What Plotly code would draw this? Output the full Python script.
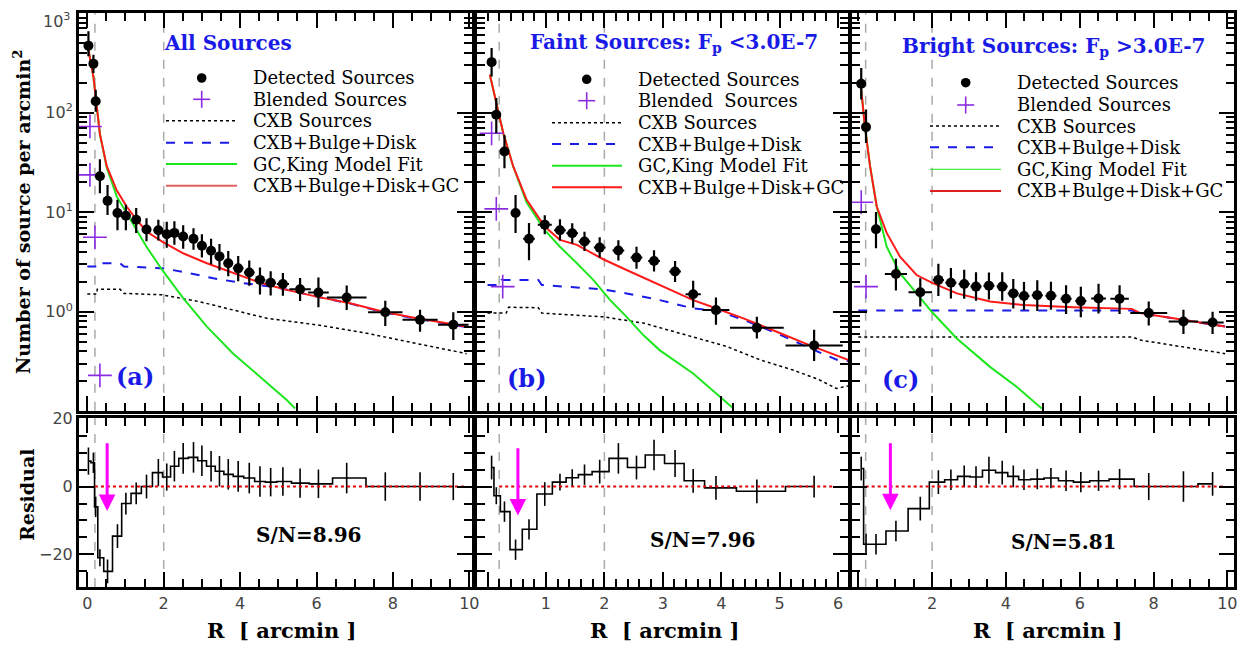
import plotly.graph_objects as go

W, H = 1249, 649

# ------------------------------------------------------------------ data
# Panel (a): all sources
a_det_x = [0.03, 0.16, 0.22, 0.33, 0.53, 0.79, 1.01, 1.28, 1.55, 1.86, 2.08, 2.28, 2.51, 2.78, 3.00,
           3.24, 3.46, 3.69, 3.95, 4.24, 4.52, 4.80, 5.12, 5.57, 6.05, 6.79, 7.80, 8.71, 9.58]
a_det_y = [470, 310, 130, 23, 13, 9.8, 9.2, 8.4, 6.7, 6.6, 6.0, 6.2, 5.7, 5.4, 4.6,
           4.1, 3.6, 3.07, 2.73, 2.48, 2.09, 1.96, 1.9, 1.68, 1.56, 1.39, 0.99, 0.83, 0.74]
a_det_eup = [185, 70, 40, 11, 5.8, 3.5, 2.7, 2.6, 2.0, 1.8, 2.0, 1.9, 1.7, 1.5, 1.4,
             1.3, 1.2, 1.0, 0.9, 0.8, 0.7, 0.6, 0.55, 0.5, 0.65, 0.45, 0.3, 0.22, 0.25]
a_det_edn = [103, 60, 28, 7.5, 3.6, 3.2, 2.6, 2.2, 1.6, 1.4, 1.6, 1.5, 1.4, 1.2, 1.1,
             1.1, 1.0, 0.8, 0.7, 0.65, 0.6, 0.5, 0.45, 0.4, 0.45, 0.35, 0.27, 0.2, 0.22]
a_det_ex = [0.03, 0.04, 0.04, 0.08, 0.1, 0.12, 0.12, 0.12, 0.12, 0.12, 0.1, 0.1, 0.12, 0.12, 0.12,
            0.12, 0.12, 0.12, 0.14, 0.14, 0.14, 0.14, 0.16, 0.28, 0.27, 0.52, 0.45, 0.46, 0.4]
a_bl_x = [0.07, 0.07, 0.20, 0.33]
a_bl_y = [72.6, 23.7, 5.6, 0.23]
a_red_x = [0.03, 0.16, 0.33, 0.51, 0.77, 1.03, 1.29, 1.55, 1.96, 2.51, 3.13, 3.82, 4.52, 5.22, 6.0, 6.88, 7.75, 8.62, 9.93]
a_red_y = [427, 230, 61, 29, 16.6, 11.4, 8.4, 6.4, 5.07, 3.87, 3.07, 2.44, 1.96, 1.66, 1.42, 1.22, 1.0, 0.86, 0.71]
a_grn_x = [0.03, 0.16, 0.33, 0.51, 0.77, 1.03, 1.29, 1.55, 1.96, 2.51, 3.13, 3.82, 4.52, 5.22, 5.44]
a_grn_y = [427, 230, 61, 28, 14.4, 9.8, 6.6, 4.5, 2.63, 1.37, 0.71, 0.38, 0.223, 0.13, 0.107]
a_blu_x = [0.0, 0.25, 0.26, 0.86, 0.96, 1.96, 2.6, 3.3, 4.0, 4.96, 6.0, 6.88, 7.75, 8.62, 9.93]
a_blu_y = [2.85, 2.85, 3.07, 3.07, 2.85, 2.74, 2.48, 2.17, 1.96, 1.76, 1.42, 1.21, 0.99, 0.85, 0.70]
a_cxb_x = [0.0, 0.25, 0.26, 0.86, 0.96, 1.96, 2.95, 3.82, 4.7, 6.0, 7.31, 8.62, 9.93]
a_cxb_y = [1.51, 1.51, 1.68, 1.68, 1.53, 1.48, 1.26, 1.04, 0.86, 0.74, 0.61, 0.48, 0.38]
a_res_y = [7.5, 7.0, -6, -21, -25, -14.6, -5, -2, 0, 4.1, 2.8, 6, 8.3, 8.6, 7.6,
           6, 4.5, 3.6, 3.0, 2.5, 1.5, 1.3, 1.5, 1.0, 0.8, 2.5, 0, 0, 0]
a_res_e = [4, 3, 3, 2.5, 3.5, 3.5, 3.2, 3.2, 3.5, 4, 4, 4.5, 4.5, 4.5, 4.5,
           4.5, 4.5, 4.5, 4.5, 4.5, 4.5, 4.2, 4.2, 4.3, 4.2, 4.5, 4.2, 4.2, 4]

# Panel (b): faint sources
b_det_x = [0.07, 0.15, 0.29, 0.48, 0.71, 0.98, 1.24, 1.45, 1.66, 1.92, 2.24, 2.55, 2.85, 3.21, 3.52, 3.91, 4.61, 5.59]
b_det_y = [321, 95, 40.7, 9.8, 5.4, 7.5, 6.6, 6.15, 5.07, 4.41, 4.12, 3.5, 3.24, 2.54, 1.5, 1.04, 0.69, 0.46]
b_det_eup = [124, 45, 19, 5.1, 2.4, 1.8, 1.9, 1.6, 1.3, 1.2, 1.1, 1.0, 0.9, 0.7, 0.55, 0.35, 0.2, 0.2]
b_det_edn = [90, 33, 13, 3.6, 2.1, 1.5, 1.4, 1.3, 1.0, 0.9, 0.85, 0.8, 0.7, 0.55, 0.4, 0.3, 0.15, 0.14]
b_det_ex = [0.03, 0.04, 0.05, 0.08, 0.1, 0.12, 0.1, 0.1, 0.1, 0.1, 0.1, 0.1, 0.1, 0.1, 0.13, 0.23, 0.46, 0.49]
b_bl_x = [0.07, 0.15, 0.26]
b_bl_y = [62, 10.8, 1.79]
b_red_x = [0.04, 0.17, 0.27, 0.44, 0.67, 0.98, 1.24, 1.53, 1.98, 2.38, 2.95, 3.52, 3.92, 4.38, 4.95, 5.52, 6.17]
b_red_y = [240, 107, 62, 28.8, 13.3, 7.18, 5.27, 4.7, 3.37, 2.63, 1.86, 1.31, 1.08, 0.86, 0.63, 0.46, 0.33]
b_grn_x = [0.04, 0.17, 0.27, 0.44, 0.67, 0.98, 1.24, 1.53, 1.81, 2.1, 2.38, 2.67, 2.95, 3.52, 4.21]
b_grn_y = [240, 107, 62, 28.8, 12.5, 6.6, 4.5, 3.07, 2.09, 1.31, 0.89, 0.58, 0.41, 0.24, 0.107]
b_blu_x = [0.0, 0.22, 0.24, 0.87, 0.93, 1.98, 2.38, 2.95, 3.52, 3.92, 4.38, 4.95, 5.52, 5.98, 6.17]
b_blu_y = [1.86, 1.86, 2.09, 2.09, 1.86, 1.68, 1.53, 1.31, 1.08, 1.03, 0.83, 0.61, 0.43, 0.33, 0.32]
b_cxb_x = [0.0, 0.32, 0.36, 0.87, 0.93, 1.98, 2.67, 3.52, 4.09, 4.66, 5.23, 5.66, 5.97, 6.17]
b_cxb_y = [0.97, 0.97, 1.11, 1.10, 0.97, 0.89, 0.77, 0.56, 0.45, 0.33, 0.26, 0.21, 0.17, 0.18]
b_res_y = [5.6, -2.7, -7.4, -18.6, -12.6, -2.2, 1.3, 2.6, 3.5, 4.4, 8.3, 5.6, 9.3, 6.8, 1.7, -0.4, -1.4, 0]
b_res_e = [3.5, 2.5, 3, 3, 3, 3.5, 2.5, 2.5, 3, 3.5, 4.5, 3.5, 4.5, 4, 3.5, 3.5, 3.5, 3.2]

# Panel (c): bright sources
c_det_x = [0.08, 0.21, 0.48, 1.02, 1.68, 2.17, 2.51, 2.87, 3.19, 3.54, 3.90, 4.20, 4.49, 4.85, 5.22,
           5.63, 6.03, 6.51, 7.08, 7.87, 8.81, 9.60]
c_det_y = [195, 71.5, 6.75, 2.4, 1.57, 2.09, 1.96, 1.9, 1.79, 1.83, 1.79, 1.53, 1.44, 1.47, 1.45,
           1.35, 1.28, 1.36, 1.35, 0.97, 0.8, 0.78]
c_det_eup = [85, 36, 3.3, 1.0, 0.6, 0.95, 0.8, 0.75, 0.7, 0.65, 0.7, 0.6, 0.55, 0.6, 0.55,
             0.5, 0.5, 0.55, 0.5, 0.3, 0.25, 0.22]
c_det_edn = [60, 22, 2.4, 0.76, 0.44, 0.65, 0.6, 0.55, 0.5, 0.5, 0.5, 0.45, 0.4, 0.45, 0.4,
             0.4, 0.4, 0.4, 0.4, 0.24, 0.2, 0.18]
c_det_ex = [0.03, 0.04, 0.1, 0.3, 0.32, 0.15, 0.15, 0.15, 0.15, 0.15, 0.15, 0.15, 0.15, 0.15, 0.15,
            0.15, 0.15, 0.2, 0.25, 0.5, 0.4, 0.3]
c_bl_x = [0.08, 0.21]
c_bl_y = [12.6, 1.79]
c_red_x = [0.08, 0.18, 0.32, 0.5, 0.77, 1.13, 1.58, 1.99, 2.67, 3.57, 4.47, 5.83, 7.41, 7.64, 8.54, 9.94]
c_red_y = [170, 72, 28.8, 11.4, 6.2, 3.58, 2.34, 1.96, 1.53, 1.27, 1.17, 1.11, 1.07, 0.97, 0.86, 0.71]
c_grn_x = [0.08, 0.18, 0.32, 0.5, 0.77, 1.13, 1.58, 1.99, 2.67, 3.57, 4.29, 4.97]
c_grn_y = [170, 72, 28.8, 11.4, 4.5, 2.44, 1.53, 1.0, 0.54, 0.28, 0.177, 0.107]
c_blu_x = [0.0, 7.41, 7.64, 8.54, 9.94]
c_blu_y = [1.03, 1.03, 0.97, 0.86, 0.71]
c_cxb_x = [0.0, 7.41, 7.64, 8.54, 9.45, 9.94]
c_cxb_y = [0.56, 0.56, 0.52, 0.46, 0.41, 0.38]
c_res_y = [5.3, -17, -17, -13.1, -6.5, 1.3, 2, 3, 2.8, 4.8, 4.1, 3, 2, 2.2, 2.5, 1.7, 1.3, 1.7, 2.2, 0, 0, 0.8]
c_res_e = [3.5, 3.2, 3, 3, 3.5, 3.5, 3, 3.2, 3.2, 4, 3.5, 3.2, 3, 3, 3, 3, 3, 3, 3, 4, 4.5, 3.5]

# Zero reference lines of the residual panels (x extent)
zero_x = {"a": [0.2, 9.9], "b": [0.2, 5.9], "c": [0.2, 9.95]}
# Vertical dashed markers (core radius / 2 arcmin)
vlines = [0.2, 2.0]
# Magenta arrows in residual panels: x, tail y, head y
arrow_x = [0.52, 0.52, 0.87]
arrow_tail = [13.2, 11.7, 13.2]
arrow_head = [-7.2, -8.5, -7.0]

titles = ["All Sources", "Faint Sources: F<sub>p</sub> &lt;3.0E-7", "Bright Sources: F<sub>p</sub> &gt;3.0E-7"]
tags = ["(a)", "(b)", "(c)"]
snr = ["S/N=8.96", "S/N=7.96", "S/N=5.81"]
legend_names = ["Detected Sources", "Blended Sources", "CXB Sources", "CXB+Bulge+Disk",
                "GC,King Model Fit", "CXB+Bulge+Disk+GC"]
legend_names_b = ["Detected Sources", "Blended\u00a0 Sources", "CXB Sources", "CXB+Bulge+Disk",
                  "GC,King Model Fit", "CXB+Bulge+Disk+GC"]
ytick_vals = [1, 10, 100, 1000]
ytick_text = ["10<sup>0</sup>", "10<sup>1</sup>", "10<sup>2</sup>", ""]
ytop_label = "10<sup>3</sup>"

# ------------------------------------------------------------------ layout geometry (pixels)
OFF = 8  # page margin of the html body


def PX(x):
    return (x - OFF) / W


def PY(y):
    return 1 - (y - OFF) / H


x_dom_px = [(79, 472), (477, 848), (852, 1234)]
x_ranges = [[-0.217, 10.07], [-0.18, 6.17], [-0.17, 10.18]]
top_dom = [PY(410.7), PY(13)]
bot_dom = [PY(587), PY(418)]

RED = "#ff1a1a"
GREEN = "#1ee61e"
BLUE = "#1a1ae6"
PURPLE = "#8a2be2"
TITLE_BLUE = "#1a1ae6"

fig = go.Figure()

panels = [
    dict(det=(a_det_x, a_det_y, a_det_eup, a_det_edn, a_det_ex), bl=(a_bl_x, a_bl_y),
         red=(a_red_x, a_red_y), grn=(a_grn_x, a_grn_y), blu=(a_blu_x, a_blu_y), cxb=(a_cxb_x, a_cxb_y),
         res=(a_res_y, a_res_e), zx=zero_x["a"]),
    dict(det=(b_det_x, b_det_y, b_det_eup, b_det_edn, b_det_ex), bl=(b_bl_x, b_bl_y),
         red=(b_red_x, b_red_y), grn=(b_grn_x, b_grn_y), blu=(b_blu_x, b_blu_y), cxb=(b_cxb_x, b_cxb_y),
         res=(b_res_y, b_res_e), zx=zero_x["b"]),
    dict(det=(c_det_x, c_det_y, c_det_eup, c_det_edn, c_det_ex), bl=(c_bl_x, c_bl_y),
         red=(c_red_x, c_red_y), grn=(c_grn_x, c_grn_y), blu=(c_blu_x, c_blu_y), cxb=(c_cxb_x, c_cxb_y),
         res=(c_res_y, c_res_e), zx=zero_x["c"]),
]

for i, p in enumerate(panels):
    xt = "x" if i == 0 else f"x{i+1}"
    yt = "y" if i == 0 else f"y{i+1}"
    xb = f"x{i+4}"
    yb = f"y{i+4}"
    fig.add_trace(go.Scatter(x=p["cxb"][0], y=p["cxb"][1], mode="lines", xaxis=xt, yaxis=yt,
                             line=dict(color="black", width=1.5, dash="dot"), showlegend=False,
                             name=legend_names[2]))
    fig.add_trace(go.Scatter(x=p["blu"][0], y=p["blu"][1], mode="lines", xaxis=xt, yaxis=yt,
                             line=dict(color=BLUE, width=2, dash="dash"), showlegend=False,
                             name=legend_names[3]))
    fig.add_trace(go.Scatter(x=p["grn"][0], y=p["grn"][1], mode="lines", xaxis=xt, yaxis=yt,
                             line=dict(color=GREEN, width=2), showlegend=False, name=legend_names[4]))
    fig.add_trace(go.Scatter(x=p["red"][0], y=p["red"][1], mode="lines", xaxis=xt, yaxis=yt,
                             line=dict(color=RED, width=2), showlegend=False, name=legend_names[5]))
    fig.add_trace(go.Scatter(x=p["bl"][0], y=p["bl"][1], mode="markers", xaxis=xt, yaxis=yt,
                             marker=dict(symbol="cross-thin-open", size=17, color=PURPLE,
                                         line=dict(color=PURPLE, width=1.6)),
                             showlegend=False, name=legend_names[1]))
    dx, dy, eu, ed, ex = p["det"]
    fig.add_trace(go.Scatter(x=dx, y=dy, mode="markers", xaxis=xt, yaxis=yt,
                             marker=dict(color="black", size=10),
                             error_y=dict(type="data", array=eu, arrayminus=ed, symmetric=False,
                                          color="black", thickness=2.2, width=0),
                             error_x=dict(type="data", array=ex, color="black", thickness=2, width=0),
                             showlegend=False, name=legend_names[0]))
    ry, re = p["res"]
    fig.add_trace(go.Scatter(x=dx, y=ry, mode="lines", xaxis=xb, yaxis=yb,
                             line=dict(color="black", width=1.6, shape="hvh"),
                             error_y=dict(type="data", array=re, color="black", thickness=1.6, width=0),
                             showlegend=False, name="Residual"))
    fig.add_trace(go.Scatter(x=p["zx"], y=[0, 0], mode="lines", xaxis=xb, yaxis=yb,
                             line=dict(color="#e00000", width=2, dash="dot"), showlegend=False,
                             name="zero"))

# ------------------------------------------------------------------ axes
tickfont = dict(family="DejaVu Sans", size=16, color="#444444")
base = dict(showline=True, linewidth=3, linecolor="black", mirror="ticks", ticks="inside",
            ticklen=15, tickwidth=2, tickcolor="black", showgrid=False, zeroline=False,
            tickfont=tickfont, automargin=False, ticklabeloverflow="allow")

log_minor = []
for d in [0.1, 1, 10, 100]:
    for k in range(2, 10):
        log_minor.append(k * d)

xtickvals = [[0, 2, 4, 6, 8, 10], [0, 1, 2, 3, 4, 5, 6], [0, 2, 4, 6, 8, 10]]
xticktext = [["0", "2", "4", "6", "8", "10"], ["", "1", "2", "3", "4", "5", "6"],
             ["", "2", "4", "6", "8", "10"]]
xminor = [0.5, 0.2, 0.5]

layout_axes = {}
for i in range(3):
    dom = [PX(x_dom_px[i][0]), PX(x_dom_px[i][1])]
    minor = dict(ticks="inside", ticklen=8, tickwidth=1.5, tickcolor="black", showgrid=False,
                 tickmode="linear", tick0=0, dtick=xminor[i])
    kt = "xaxis" if i == 0 else f"xaxis{i+1}"
    layout_axes[kt] = dict(base, domain=dom, range=x_ranges[i], anchor="y" if i == 0 else f"y{i+1}",
                           tickmode="array", tickvals=xtickvals[i], ticktext=xticktext[i],
                           showticklabels=False, minor=minor)
    layout_axes[f"xaxis{i+4}"] = dict(base, domain=dom, range=x_ranges[i], anchor=f"y{i+4}",
                                      tickmode="array", tickvals=xtickvals[i], ticktext=xticktext[i],
                                      showticklabels=True, minor=minor)
    ky = "yaxis" if i == 0 else f"yaxis{i+1}"
    layout_axes[ky] = dict(base, domain=top_dom, type="log", range=[-0.993, 3.0],
                           anchor="x" if i == 0 else f"x{i+1}",
                           tickmode="array", tickvals=ytick_vals, ticktext=ytick_text,
                           showticklabels=(i == 0),
                           minor=dict(ticks="inside", ticklen=8, tickwidth=1.5, tickcolor="black",
                                      showgrid=False, tickmode="array", tickvals=log_minor))
    layout_axes[f"yaxis{i+4}"] = dict(base, domain=bot_dom, range=[-29.6, 20.2], anchor=f"x{i+4}",
                                      tickmode="array", tickvals=[-20, 0, 20],
                                      ticktext=["\u221220", "0", "20"], showticklabels=(i == 0),
                                      minor=dict(ticks="inside", ticklen=8, tickwidth=1.5,
                                                 tickcolor="black", showgrid=False,
                                                 tickmode="linear", tick0=0, dtick=5))

# ------------------------------------------------------------------ shapes & annotations
shapes = []
ann = []
for i in range(3):
    xt = "x" if i == 0 else f"x{i+1}"
    xb = f"x{i+4}"
    yt = "y" if i == 0 else f"y{i+1}"
    yb = f"y{i+4}"
    for xr, yr in [(xt, yt), (xb, yb)]:
        for v in vlines:
            shapes.append(dict(type="line", xref=xr, yref=f"{yr} domain", x0=v, x1=v, y0=0, y1=1,
                               line=dict(color="#aaaaaa", width=1.5, dash="dash"), layer="below"))
    ann.append(dict(x=arrow_x[i], y=arrow_head[i], ax=arrow_x[i], ay=arrow_tail[i], xref=xb, yref=yb,
                    axref=xb, ayref=yb, showarrow=True, arrowhead=2, arrowsize=1.1, arrowwidth=3,
                    arrowcolor="#ff00ff", text=""))

# top decade label of the log axis, kept inside the page
ann.append(dict(x=PX(72), y=PY(8), xref="paper", yref="paper", text=ytop_label, showarrow=False,
                xanchor="right", yanchor="top", font=tickfont))

serif_b = "DejaVu Serif"
title_pos = [(228, 43), (674, 43), (1054, 47)]
tag_pos = [(135, 376), (527, 378), (900, 379)]
snr_pos = [(309, 535), (703, 540), (1064, 542)]
for i in range(3):
    ann.append(dict(x=PX(title_pos[i][0]), y=PY(title_pos[i][1]), xref="paper", yref="paper",
                    text=f"<b>{titles[i]}</b>", showarrow=False, xanchor="center", yanchor="middle",
                    font=dict(family=serif_b, size=20, color=TITLE_BLUE)))
    ann.append(dict(x=PX(tag_pos[i][0]), y=PY(tag_pos[i][1]), xref="paper", yref="paper",
                    text=f"<b>{tags[i]}</b>", showarrow=False, xanchor="center", yanchor="middle",
                    font=dict(family=serif_b, size=24, color=TITLE_BLUE)))
    ann.append(dict(x=PX(snr_pos[i][0]), y=PY(snr_pos[i][1]), xref="paper", yref="paper",
                    text=f"<b>{snr[i]}</b>", showarrow=False, xanchor="center", yanchor="middle",
                    font=dict(family=serif_b, size=20, color="black")))

ann.append(dict(x=PX(22), y=PY(212), xref="paper", yref="paper", textangle=-90,
                xanchor="center", yanchor="middle",
                text="<b>Number of source per arcmin<sup>2</sup></b>", showarrow=False,
                font=dict(family=serif_b, size=19, color="black")))
ann.append(dict(x=PX(27), y=PY(495), xref="paper", yref="paper", textangle=-90,
                xanchor="center", yanchor="middle",
                text="<b>Residual</b>", showarrow=False, font=dict(family=serif_b, size=19, color="black")))
for cx in [282, 665, 1048]:
    ann.append(dict(x=PX(cx), y=PY(630), xref="paper", yref="paper",
                    text="<b>R\u00a0 [ arcmin ]</b>", xanchor="center", yanchor="middle",
                    showarrow=False, font=dict(family=serif_b, size=21, color="black")))

leg_geo = [
    dict(rows=[78, 99.3, 120.7, 142.7, 164, 185.7], l0=166, l1=237, mx=201.7, tx=251,
         names=legend_names, red="#e06060", gw=2),
    dict(rows=[79.3, 100.7, 122.7, 144, 165.7, 187.3], l0=552, l1=622, mx=586.7, tx=636,
         names=legend_names_b, red=RED, gw=2),
    dict(rows=[82.7, 105, 126, 147.3, 169.3, 191], l0=930, l1=1001, mx=965.7, tx=1015,
         names=legend_names, red="#e02020", gw=1),
]
for g in leg_geo:
    r = g["rows"]
    rad = 4.8
    shapes.append(dict(type="circle", xref="paper", yref="paper", x0=PX(g["mx"] - rad), x1=PX(g["mx"] + rad),
                       y0=PY(r[0] + rad), y1=PY(r[0] - rad), fillcolor="black", line=dict(width=0)))
    hl = 8.5
    shapes.append(dict(type="line", xref="paper", yref="paper", x0=PX(g["mx"] - hl), x1=PX(g["mx"] + hl),
                       y0=PY(r[1]), y1=PY(r[1]), line=dict(color=PURPLE, width=1.6)))
    shapes.append(dict(type="line", xref="paper", yref="paper", x0=PX(g["mx"]), x1=PX(g["mx"]),
                       y0=PY(r[1] - hl), y1=PY(r[1] + hl), line=dict(color=PURPLE, width=1.6)))
    styles = [dict(color="black", width=1.5, dash="dot"), dict(color=BLUE, width=2, dash="dash"),
              dict(color=GREEN, width=g["gw"]), dict(color=g["red"], width=2)]
    for k, st in enumerate(styles):
        shapes.append(dict(type="line", xref="paper", yref="paper", x0=PX(g["l0"]), x1=PX(g["l1"]),
                           y0=PY(r[k + 2]), y1=PY(r[k + 2]), line=st))
    for k, nm in enumerate(g["names"]):
        ann.append(dict(x=PX(g["tx"]), y=PY(r[k]), xref="paper", yref="paper", text=nm,
                        showarrow=False, xanchor="left", yanchor="middle",
                        font=dict(family="DejaVu Serif", size=18, color="black")))

fig.update_layout(
    width=W, height=H, autosize=False,
    margin=dict(l=0, r=0, t=0, b=0),
    paper_bgcolor="white", plot_bgcolor="white",
    showlegend=False,
    shapes=shapes, annotations=ann,
    **layout_axes,
)

fig.write_html("out.html")
